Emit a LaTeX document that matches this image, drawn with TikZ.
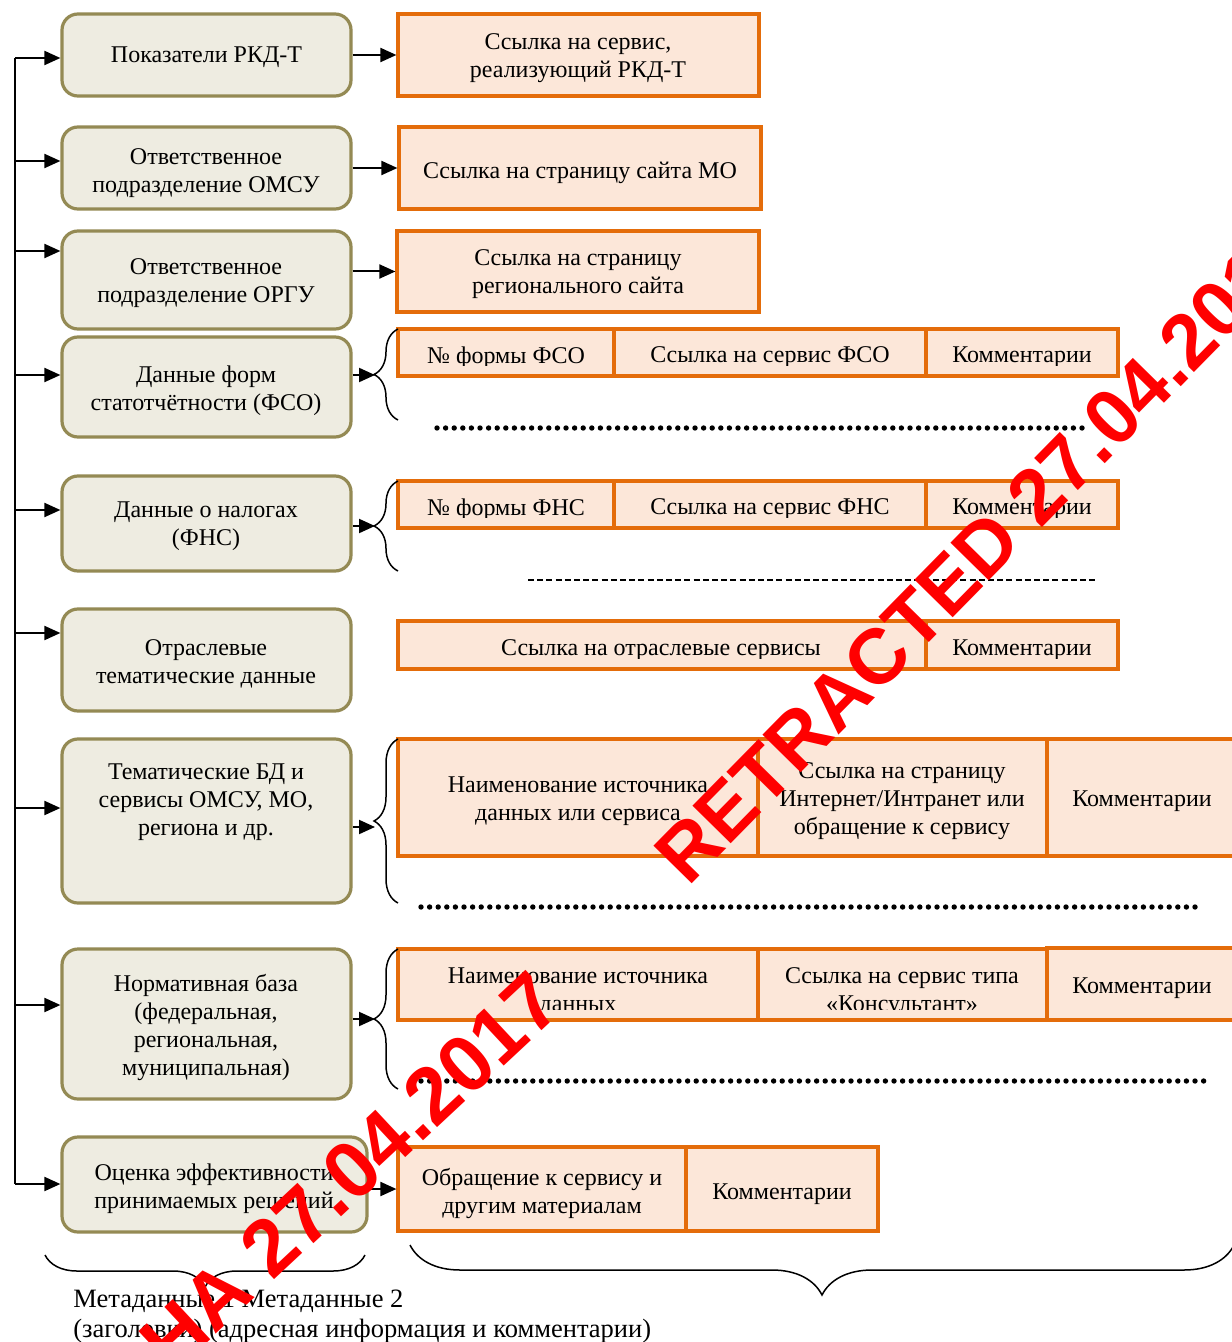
\documentclass[tikz,border=0pt]{standalone}
\usepackage{fontspec}
\setmainfont{Liberation Serif}
\newfontfamily\wmfont{Liberation Sans}
\usetikzlibrary{arrows.meta,decorations.pathreplacing,fit}
\definecolor{olv}{HTML}{948A54}
\definecolor{olvfill}{HTML}{EEECE1}
\definecolor{orn}{HTML}{E46C0A}
\definecolor{ornfill}{HTML}{FCE7D9}
\definecolor{wmred}{HTML}{FF0000}
\tikzset{
  lbox/.style={draw=olv, fill=olvfill, line width=1.6pt, rounded corners=8pt, inner sep=0pt},
  ocellbox/.style={draw=orn, fill=ornfill, line width=1.6pt, inner sep=0pt},
  txt/.style={font=\fontsize{12}{14}\selectfont, align=center, inner sep=0pt, yshift=-1.2pt},
  capt/.style={font=\fontsize{13.25}{15}\selectfont, inner sep=0pt, anchor=base west},
  arr/.style={line width=1pt, -{Triangle[length=8pt,width=7pt]}},
  brc/.style={decorate, decoration={brace, amplitude=#1}, line width=0.75pt},
  dotl/.style={line width=2.7pt, line cap=round, dash pattern=on 0pt off 4.3pt},
  dashl/.style={line width=1pt, dash pattern=on 3pt off 1.6pt},
  wm/.style={text=wmred, font=\wmfont\bfseries\fontsize{#1}{44}\selectfont, inner sep=0pt}
}
\newcommand\ocell[8]{%
  \node[ocellbox, fit={(#2,#3) (#4,#5)}] (#1) {};
  \begin{scope}
    \clip (#2,#3) rectangle (#4,#5-11);
    \node[txt] (#1t) at (#6,#7) {#8};
  \end{scope}}
\begin{document}
\begin{tikzpicture}[x=0.5pt,y=-0.5pt]
\useasboundingbox[fill=white] (0,0) rectangle (1231,1342);

% left column boxes
\node[lbox, fit={(62,14) (351,96)}] (L1) {};
\node[txt] (L1t) at (L1.center) {Показатели РКД-Т};
\node[lbox, fit={(62,127) (351,209)}] (L2) {};
\node[txt] (L2t) at (206,171) {Ответственное\\подразделение ОМСУ};
\node[lbox, fit={(62,231) (351,329)}] (L3) {};
\node[txt] (L3t) at (206,281) {Ответственное\\подразделение ОРГУ};
\node[lbox, fit={(62,337) (351,437)}] (L4) {};
\node[txt] (L4t) at (206,388) {Данные форм\\статотчётности (ФСО)};
\node[lbox, fit={(62,476) (351,571)}] (L5) {};
\node[txt] (L5t) at (206,524) {Данные о налогах\\(ФНС)};
\node[lbox, fit={(62,609) (351,711)}] (L6) {};
\node[txt] (L6t) at (206,661) {Отраслевые\\тематические данные};
\node[lbox, fit={(62,739) (351,903)}] (L7) {};
\node[txt] (L7t) at (206,800) {Тематические БД и\\сервисы ОМСУ, МО,\\региона и др.};
\node[lbox, fit={(62,949) (351,1099)}] (L8) {};
\node[txt] (L8t) at (206,1025) {Нормативная база\\(федеральная,\\региональная,\\муниципальная)};
\node[lbox, fit={(62,1137) (367,1232)}] (L9) {};
\node[txt] (L9t) at (214,1186) {Оценка эффективности\\принимаемых решений};

% right column cells
\ocell{R1}{398}{14}{759}{96}{578}{56}{Ссылка на сервис,\\реализующий РКД-Т}
\ocell{R2}{399}{127}{761}{209}{580}{170}{Ссылка на страницу сайта МО}
\ocell{R3}{397}{231}{759}{312}{578}{272}{Ссылка на страницу\\регионального сайта}
\ocell{F1}{398}{329}{614}{376}{506}{355}{№ формы ФСО}
\ocell{F2}{614}{329}{926}{376}{770}{355}{Ссылка на сервис ФСО}
\ocell{F3}{926}{329}{1118}{376}{1022}{355}{Комментарии}
\ocell{N1}{398}{481}{614}{528}{506}{507}{№ формы ФНС}
\ocell{N2}{614}{481}{926}{528}{770}{507}{Ссылка на сервис ФНС}
\ocell{N3}{926}{481}{1118}{528}{1022}{507}{Комментарии}
\ocell{S1}{398}{621}{926}{669}{661}{648}{Ссылка на отраслевые сервисы}
\ocell{S2}{926}{621}{1118}{669}{1022}{648}{Комментарии}
\ocell{T1}{398}{739}{758}{856}{578}{799}{Наименование источника\\данных или сервиса}
\ocell{T2}{758}{739}{1047}{856}{902}{799}{Ссылка на страницу\\Интернет/Интранет или\\обращение к сервису}
\ocell{T3}{1047}{739}{1245}{856}{1142}{799}{Комментарии}
\ocell{M1}{398}{949}{758}{1020}{578}{990}{Наименование источника\\данных}
\ocell{M2}{758}{949}{1047}{1020}{902}{990}{Ссылка на сервис типа\\«Консультант»}
\ocell{M3}{1047}{948}{1245}{1020}{1142}{986}{Комментарии}
\ocell{E1}{398}{1147}{686}{1231}{542}{1191}{Обращение к сервису и\\другим материалам}
\ocell{E2}{686}{1147}{878}{1231}{782}{1192}{Комментарии}

% bus and arrows into the left column
\coordinate (b1) at (15,58);
\coordinate (b2) at (15,161);
\coordinate (b3) at (15,251);
\coordinate (b4) at (15,375);
\coordinate (b5) at (15,510);
\coordinate (b6) at (15,633);
\coordinate (b7) at (15,808);
\coordinate (b8) at (15,1005);
\coordinate (b9) at (15,1184);
\draw[line width=1pt] (b1) -- (b9);
\foreach \i in {1,...,9} {\draw[arr] (b\i) -- (b\i -| L\i.west);}

% arrows to the right
\draw[arr] (L1.east |- R1.west) -- (R1.west);
\draw[arr] (L2.east |- R2.west) -- (R2.west);
\draw[arr] (L3.east |- R3.west) -- (R3.west);
\coordinate (t4) at (375,375);
\coordinate (t5) at (375,526);
\coordinate (t7) at (375,827);
\coordinate (t8) at (375,1019);
\draw[arr] (L4.east |- t4) -- (t4);
\draw[arr] (L5.east |- t5) -- (t5);
\draw[arr] (L7.east |- t7) -- (t7);
\draw[arr] (L8.east |- t8) -- (t8);
\draw[arr] (L9.east |- E1.west) -- (E1.west);

% braces next to the right column
\draw[brc=12pt] (398,420) -- (398,329);
\draw[brc=12pt] (398,571) -- (398,481);
\draw[brc=12pt] (398,903) -- (398,739);
\draw[brc=12pt] (398,1089) -- (398,949);

% dotted / dashed separators
\draw[dotl] (437,428) -- (1090,428);
\draw[dashl] (528,580) -- (1095,580);
\draw[dotl] (421,907) -- (1200,907);
\draw[dotl] (421,1081) -- (1210,1081);

% bottom braces and captions
\draw[brc=16pt] (365,1255) -- (45,1255);
\draw[brc=25pt] (1234,1245) -- (410,1245);
\node[capt] (cap1) at (73,1307) {Метаданные 1 Метаданные 2};
\node[capt] (cap2) at (73,1337) {(заголовки) (адресная информация и комментарии)};

% watermarks
\node[wm=39, rotate=45.5, anchor=base west] (wm1) at (688,888) {RETRACTED 27.04.2017};
\node[wm=40, rotate=43, anchor=base east] (wm2) at (566,1008) {ОТОЗВАНА 27.04.2017};
\end{tikzpicture}
\end{document}
